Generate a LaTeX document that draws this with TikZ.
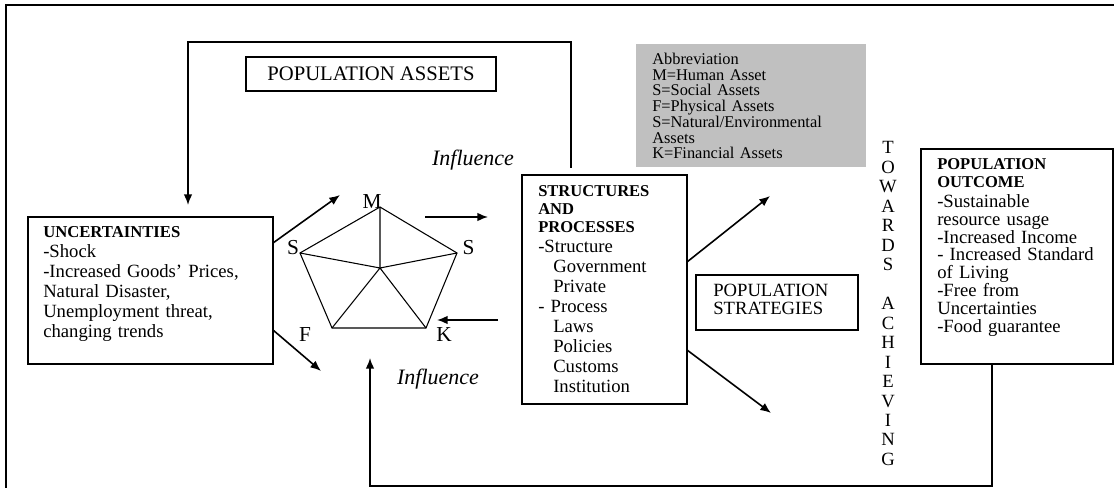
\documentclass[tikz,border=0pt]{standalone}
\usepackage{fontspec}
\setmainfont{Liberation Serif}
\usetikzlibrary{arrows.meta,calc}
\definecolor{abbrgray}{RGB}{192,192,192}
\begin{document}
\begin{tikzpicture}[x=0.75pt,y=-0.75pt,
  box/.style={draw,line width=1pt,anchor=north west,inner sep=0pt,outer sep=0pt},
  txt/.style={anchor=base west,inner sep=0pt,align=left},
  arr/.style={line width=1.2pt,-{Latex[length=8pt,width=6.5pt]}},
  pent/.style={line width=0.8pt},
  lbl/.style={font=\fontsize{16}{16}\selectfont,inner sep=0pt},
  infl/.style={font=\fontsize{16.5}{16.5}\selectfont\itshape,inner sep=0pt}]
\useasboundingbox (0,0) rectangle (1114,488);
% outer frame
\draw[line width=1.5pt] (6,488) -- (6,5) -- (1114,5);

% boxes
\node[box,minimum width=183.75pt,minimum height=110.25pt] (unc) at (28,217) {};
\node[draw,line width=1pt,inner sep=0pt,minimum width=187.5pt,minimum height=25.5pt,
      font=\fontsize{15.5}{15.5}\selectfont] (pa) at (371,74) {POPULATION ASSETS};
\node[box,draw=none,fill=abbrgray,minimum width=172.5pt,minimum height=92.25pt] (abbr) at (636,44) {};
\node[box,minimum width=123.75pt,minimum height=171.75pt] (sp) at (522,175) {};
\node[box,minimum width=121.5pt,minimum height=41.25pt] (ps) at (696,275) {};
\node[box,minimum width=144pt,minimum height=161.25pt] (po) at (921,149) {};

% texts
\node[txt,text width=165pt,font=\fontsize{14}{15}\selectfont] (unct) at (43,237.5)
 {{\fontsize{12.5}{15}\selectfont\bfseries UNCERTAINTIES}\\
  -Shock\\
  -Increased Goods' Prices,\\
  Natural Disaster,\\
  Unemployment threat,\\
  changing trends};

\node[txt,text width=150pt,font=\fontsize{12.3}{11.8}\selectfont] (abbrt) at (652,64.5)
 {Abbreviation\\
  M=Human Asset\\
  S=Social Assets\\
  F=Physical Assets\\
  S=Natural/Environmental\\
  Assets\\
  K=Financial Assets};

\node[txt,text width=110pt,font=\fontsize{14}{15}\selectfont] (spt) at (538,196.5)
 {{\fontsize{12.4}{13.5}\selectfont\bfseries STRUCTURES\\AND\\PROCESSES\par}
  -Structure\\
  \hspace*{11.25pt}Government\\
  \hspace*{11.25pt}Private\\
  - Process\\
  \hspace*{11.25pt}Laws\\
  \hspace*{11.25pt}Policies\\
  \hspace*{11.25pt}Customs\\
  \hspace*{11.25pt}Institution};

\node[txt,text width=110pt,font=\fontsize{14}{13.1}\selectfont] (pst) at (713,297)
 {POPULATION\\STRATEGIES};

\node[txt,text width=130pt,font=\fontsize{14}{13.4}\selectfont] (pot) at (937,169.5)
 {{\fontsize{12.4}{13.5}\selectfont\bfseries POPULATION\\OUTCOME\par}
  \vspace{1.5pt}
  -Sustainable\\
  resource usage\\
  -Increased Income\\
  - Increased Standard\\
  of Living\\
  -Free from\\
  Uncertainties\\
  -Food guarantee};

\node[anchor=base,inner sep=0pt,text width=15pt,align=center,
      font=\fontsize{14}{14.6}\selectfont] (tow) at (888,154)
 {T\\O\\W\\A\\R\\D\\S\\\mbox{}\\A\\C\\H\\I\\E\\V\\I\\N\\G};

\node[infl] (inf1) at (473,160) {Influence};
\node[infl] (inf2) at (438,379) {Influence};

% pentagon
\coordinate (pM) at (380,207);
\coordinate (pSL) at (300,253);
\coordinate (pSR) at (457,253);
\coordinate (pF) at (332,328);
\coordinate (pK) at (426,328);
\coordinate (pC) at (380,268);
\draw[pent,line join=miter] (pM) -- (pSR) -- (pK) -- (pF) -- (pSL) -- cycle;
\draw[pent] (pC) -- (pM) (pC) -- (pSL) (pC) -- (pSR) (pC) -- (pK) (pC) -- (pF);
\node[lbl] (lM) at (372,201.5) {M};
\node[lbl] (lSL) at (293,248) {S};
\node[lbl] (lSR) at (468.5,248) {S};
\node[lbl] (lF) at (305,335) {F};
\node[lbl] (lK) at (444,335) {K};

% arrows
\coordinate (a1e) at (340,195);
\coordinate (a2e) at (321,371);
\coordinate (a3s) at (425,217);
\coordinate (a3e) at (488,217);
\coordinate (a4s) at (498,320);
\coordinate (a4e) at (437,320);
\coordinate (a5e) at (770,196);
\coordinate (a6e) at (771,413);
\draw[arr] ($(unc.north east)+(0,26)$) -- (a1e);
\draw[arr] ($(unc.north east)+(0,113)$) -- (a2e);
\draw[arr] (a3s) -- (a3e);
\draw[arr] (a4s) -- (a4e);
\draw[arr] ($(sp.north east)+(0,87)$) -- (a5e);
\draw[arr] ($(sp.north east)+(0,175)$) -- (a6e);

% feedback loops
\coordinate (tf) at ($(sp.north west)+(49,-7)$);
\coordinate (tfend) at ($(unc.north west)+(160,-12)$);
\draw[arr] (tf) -- (tf |- 0,42) -| (tfend);
\coordinate (bs) at ($(po.south west)+(71,0)$);
\coordinate (bend) at (370,358);
\draw[arr] (bs) -- (bs |- 0,486) -| (bend);
\end{tikzpicture}
\end{document}
